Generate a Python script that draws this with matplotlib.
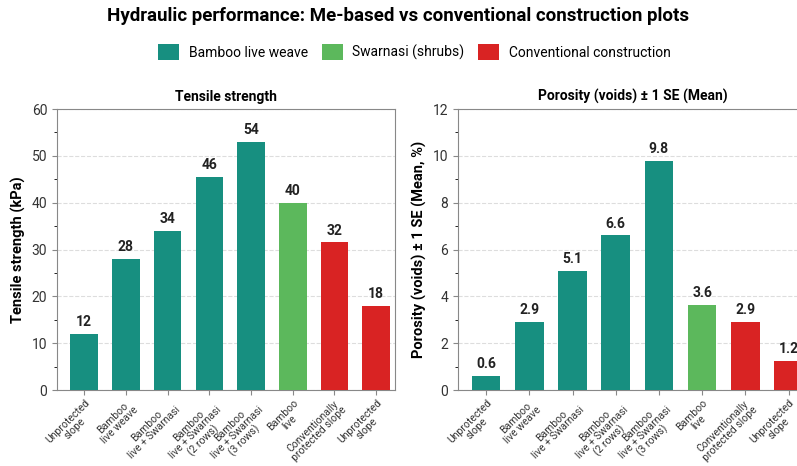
import numpy as np
import matplotlib.pyplot as plt
from matplotlib.patches import Patch
from matplotlib.ticker import MultipleLocator

plt.rcParams['font.family'] = ['Roboto', 'DejaVu Sans']

# data
categories = ["Unprotected\nslope", "Bamboo\nlive weave", "Bamboo\nlive + Swarnasi",
              "Bamboo\nlive + Swarnasi\n(2 rows)", "Bamboo\nlive + Swarnasi\n(3 rows)",
              "Bamboo\nlive", "Conventionally\nprotected slope", "Unprotected\nslope"]
groups = ["bamboo", "bamboo", "bamboo", "bamboo", "bamboo", "shrub", "conv", "conv"]
tensile = [12, 28, 34, 45.5, 53, 40, 31.5, 18]
tensile_labels = ["12", "28", "34", "46", "54", "40", "32", "18"]
porosity = [0.6, 2.9, 5.1, 6.6, 9.8, 3.65, 2.9, 1.25]
porosity_labels = ["0.6", "2.9", "5.1", "6.6", "9.8", "3.6", "2.9", "1.2"]

colors = {"bamboo": "#178f80", "shrub": "#5cb85c", "conv": "#d92323"}
legend_names = {"bamboo": "Bamboo live weave", "shrub": "Swarnasi (shrubs)",
                "conv": "Conventional construction"}

fig = plt.figure(figsize=(7.97, 4.66), dpi=100)
W, H = 797, 466


def make_axes(left_px, right_px):
    return fig.add_axes([left_px / W, 1 - 390 / H, (right_px - left_px) / W, (390 - 109) / H])


ax1 = make_axes(57, 395)
ax2 = make_axes(458, 808)


def draw_panel(ax, values, labels, title, ylabel, ymax, major, minor, offset):
    x = np.arange(len(values))
    bar_colors = [colors[g] for g in groups]
    ax.bar(x, values, width=0.66, color=bar_colors, zorder=3)
    for xi, v, lab in zip(x, values, labels):
        ax.text(xi, v + offset, lab, ha='center', va='bottom', fontsize=10,
                fontweight='bold', color='#222222')
    ax.set_xlim(-0.65, len(values) - 0.55)
    ax.set_ylim(0, ymax)
    ax.yaxis.set_major_locator(MultipleLocator(major))
    ax.yaxis.set_minor_locator(MultipleLocator(minor))
    ax.grid(axis='y', which='major', linestyle='--', color='#dddddd', linewidth=0.8, zorder=0)
    ax.set_xticks(x)
    ax.set_xticklabels(categories, rotation=45, ha='right', va='top', rotation_mode='anchor',
                       fontsize=7.5, multialignment='center', linespacing=1.0, color='#333333')
    ax.tick_params(axis='x', pad=2)
    ax.tick_params(axis='y', labelsize=10, colors='#333333')
    ax.tick_params(axis='both', color='#888888')
    for s in ax.spines.values():
        s.set_color('#888888')
    ax.set_title(title, fontsize=10, fontweight='bold', pad=6)
    ax.set_ylabel(ylabel, fontsize=10.5, fontweight='bold')


draw_panel(ax1, tensile, tensile_labels, "Tensile strength", "Tensile strength (kPa)",
           60, 10, 5, 1.0)
draw_panel(ax2, porosity, porosity_labels, "Porosity (voids) \u00b1 1 SE (Mean)",
           "Porosity (voids) \u00b1 1 SE (Mean, %)", 12, 2, 1, 0.2)

fig.suptitle("Hydraulic performance: Me-based vs conventional construction plots",
             fontsize=13.5, fontweight='bold', y=0.985)

handles = [Patch(facecolor=colors[k], label=legend_names[k]) for k in ["bamboo", "shrub", "conv"]]
fig.legend(handles=handles, loc='center', bbox_to_anchor=(0.52, 1 - 52 / H), ncol=3,
           frameon=False, fontsize=10, handlelength=1.5, handleheight=1.4,
           columnspacing=1.0, handletextpad=0.7)

fig.savefig("out.png", dpi=100)
